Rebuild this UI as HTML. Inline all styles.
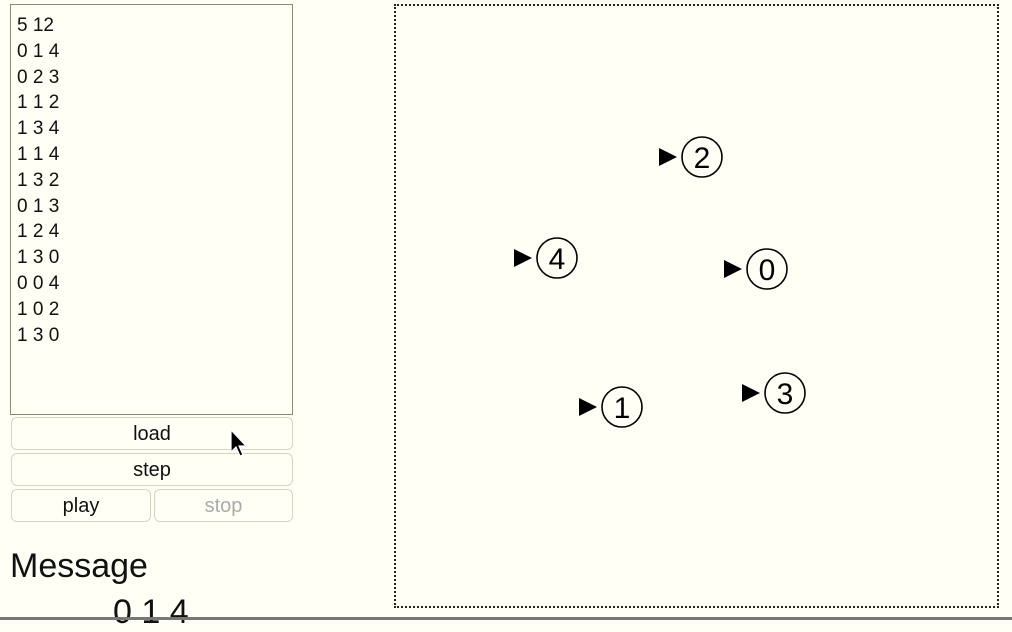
<!DOCTYPE html>
<html><head><meta charset="utf-8"><style>
body{margin:0;width:1012px;height:620px;background:#fffff6;font-family:"Liberation Sans","Noto Sans CJK JP",sans-serif;position:relative;overflow:hidden}
#ta{position:absolute;left:10px;top:4px;width:283px;height:411px;border:1.5px solid #8a8a70;background:#fffff6;font-size:19px;line-height:25.8px;padding:8px 6px 0;box-sizing:border-box;white-space:pre;color:#111}
.btn{position:absolute;height:33px;border:1px solid #d6d6c0;border-radius:6px;background:#fffff6;font-size:20px;text-align:center;line-height:33px;color:#111;box-sizing:border-box}
#msg{position:absolute;left:10px;top:547px;font-size:34px;color:#111}
#out{position:absolute;left:113px;top:593px;font-size:34px;color:#111}
#line{position:absolute;left:0;top:617px;width:1012px;height:3px;background:#777}
#cv{position:absolute;left:394px;top:4px;width:605px;height:604px;border:2px dotted #222;box-sizing:border-box}
</style></head><body>
<div id="ta">5 12
0 1 4
0 2 3
1 1 2
1 3 4
1 1 4
1 3 2
0 1 3
1 2 4
1 3 0
0 0 4
1 0 2
1 3 0</div>
<div class="btn" style="left:11px;top:417px;width:282px">load</div>
<div class="btn" style="left:11px;top:453px;width:282px">step</div>
<div class="btn" style="left:11px;top:489px;width:140px">play</div>
<div class="btn" style="left:154px;top:489px;width:139px;color:#aaa">stop</div>
<div id="msg">Message</div>
<div id="out">0 1 4</div>
<div id="line"></div>
<div id="cv">
<svg id="svg" width="604" height="603" style="position:absolute;left:-2px;top:-2px"></svg>
</div>
<svg width="20" height="34" style="position:absolute;left:229px;top:428px"><path d="M2 2 L2 24 L7 19 L11 28 L14 27 L10 18 L17 18 Z" fill="#000" stroke="#fff" stroke-width="1.2"/></svg>
<script>
const nodeIds=[0,1,2,3,4];
const nodeX=[767,622,702,785,557];
const nodeY=[269,407,157,393,258];
const svg=document.getElementById('svg');
const NS='http://www.w3.org/2000/svg';
const ox=394, oy=4;
nodeIds.forEach((id,i)=>{
 const cx=nodeX[i]-ox, cy=nodeY[i]-oy;
 const g=document.createElementNS(NS,'g');
 
 
 const t=document.createElementNS(NS,'polygon');
 t.setAttribute('points',`${cx-43},${cy-9} ${cx-25},${cy} ${cx-43},${cy+9}`);
 t.setAttribute('fill','#000');
 const c=document.createElementNS(NS,'circle');
 c.setAttribute('cx',cx);c.setAttribute('cy',cy);c.setAttribute('r',20);
 c.setAttribute('fill','none');c.setAttribute('stroke','#000');c.setAttribute('stroke-width','1.6');
 const tx=document.createElementNS(NS,'text');
 tx.setAttribute('x',cx);tx.setAttribute('y',cy+11);tx.setAttribute('text-anchor','middle');
 tx.setAttribute('font-size','30');tx.setAttribute('font-family','Liberation Sans, sans-serif');
 tx.textContent=id;
 g.appendChild(t);g.appendChild(c);g.appendChild(tx);svg.appendChild(g);
});
</script>
</body></html>
